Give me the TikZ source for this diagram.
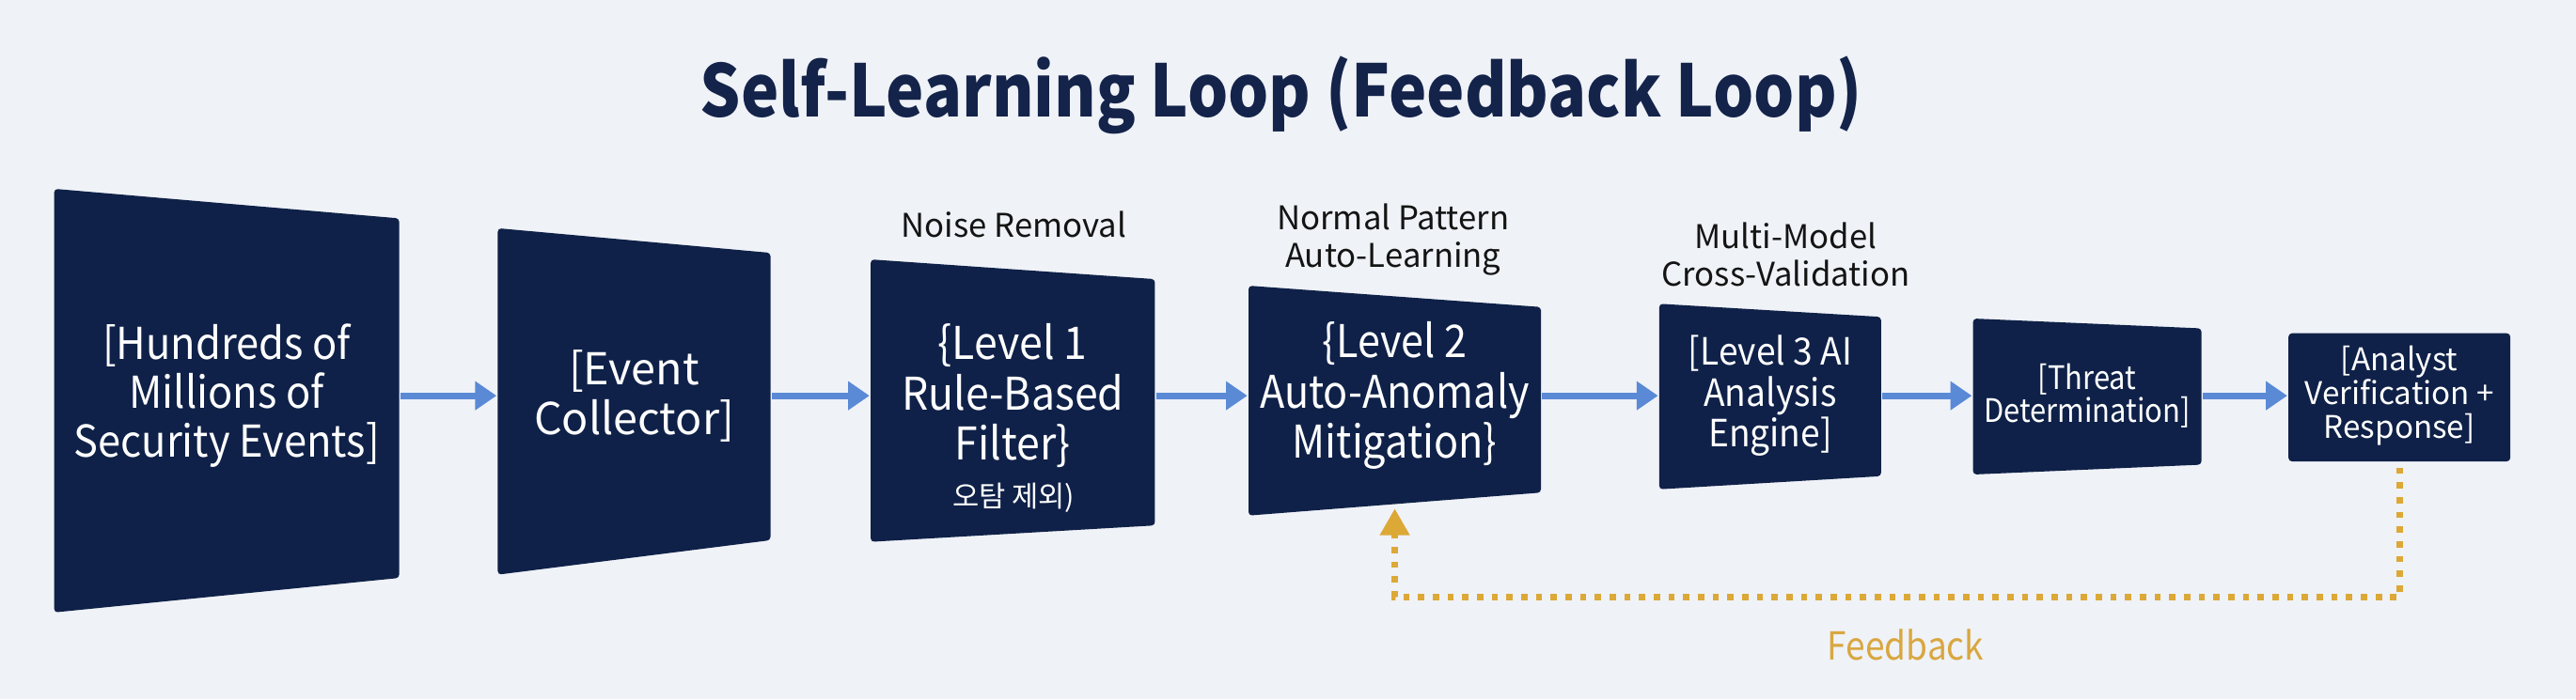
\documentclass[tikz,border=0pt]{standalone}
\usepackage{fontspec}
\setmainfont{Noto Sans CJK KR}
\newfontfamily\fnine[FakeStretch=0.9]{Noto Sans CJK KR}
\newfontfamily\fnt[FakeStretch=0.93]{Noto Sans CJK KR}
\newfontfamily\ftitle[FakeStretch=0.885]{Noto Sans CJK KR}
\usetikzlibrary{arrows.meta,calc}
\definecolor{bgc}{HTML}{EFF2F7}
\definecolor{navy}{HTML}{0F2148}
\definecolor{titlec}{HTML}{14234A}
\definecolor{flowc}{HTML}{5A8AD6}
\definecolor{goldc}{HTML}{DCA836}
\definecolor{fbtext}{HTML}{D9A740}
\definecolor{labelc}{HTML}{141414}
\begin{document}
\begin{tikzpicture}[x=0.01cm,y=-0.01cm,
  boxtext/.style={text=white, align=center, inner sep=0pt},
  panel/.style={fill=navy, rounded corners=0.6pt},
  toplabel/.style={text=labelc, align=center, inner sep=0pt, font=\fontsize{5.65}{6.6}\selectfont},
  flow/.style={draw=flowc, line width=1.14pt, -{Triangle[length=3.7pt,width=4.8pt]}},
  fb/.style={draw=goldc, line width=1.1pt, dash pattern=on 1.1pt off 1.45pt, -{Triangle[length=4.6pt,width=4.9pt]}}]
\useasboundingbox (0,0) rectangle (1568,425.8);
\fill[bgc] (0,0) rectangle (1568,425.8);

% title
\node[text=titlec, inner sep=0pt] (title) at (780,58) {\ftitle\bfseries\fontsize{12.5}{14}\selectfont Self-Learning Loop (Feedback Loop)};

% panels
\fill[panel] (33,115) -- (243,133) -- (243,352) -- (33,373) -- cycle;
\fill[panel] (303,139) -- (469,154) -- (469,329) -- (303,350) -- cycle;
\fill[panel] (530,158) -- (703,170) -- (703,320) -- (530,330) -- cycle;
\fill[panel] (760,174) -- (938,187) -- (938,300) -- (760,314) -- cycle;
\fill[panel] (1010,185) -- (1145,193) -- (1145,290) -- (1010,298) -- cycle;
\fill[panel] (1201,194) -- (1340,200) -- (1340,283) -- (1201,289) -- cycle;
\fill[panel] (1393,203) -- (1528,203) -- (1528,281) -- (1393,281) -- cycle;

% box texts
\node[boxtext, minimum width=2.10cm, minimum height=2.19cm, font=\fnt\fontsize{7.6}{8.4}\selectfont] (b1) at (138,241) {[Hundreds of\\Millions of\\Security Events]};
\node[boxtext, minimum width=1.66cm, minimum height=1.75cm, font=\fontsize{7.6}{8.6}\selectfont] (b2) at (386,241) {[Event\\Collector]};
\node[boxtext, minimum width=1.73cm, minimum height=1.50cm, font=\fnt\fontsize{7.8}{8.7}\selectfont] (b3) at (616.5,241) {\{Level 1\\Rule-Based\\Filter\}};
\node[boxtext, font=\fontsize{5}{6}\selectfont] (k3) at (617,303) {오탐 제외)};
\node[boxtext, minimum width=1.78cm, minimum height=1.36cm, font=\fnine\fontsize{7.8}{8.7}\selectfont] (b4) at (849,241) {\{Level 2\\Auto-Anomaly\\Mitigation\}};
\node[boxtext, minimum width=1.35cm, minimum height=0.97cm, font=\fnt\fontsize{6.5}{7.1}\selectfont] (b5) at (1077.5,241) {[Level 3 AI\\Analysis\\Engine]};
\node[boxtext, minimum width=1.39cm, minimum height=0.83cm, font=\fnine\fontsize{5.6}{5.6}\selectfont] (b6) at (1270.5,241) {[Threat\\Determination]};
\node[boxtext, minimum width=1.35cm, minimum height=0.86cm, font=\fontsize{5.4}{5.8}\selectfont] (b7) at (1460.5,241) {[Analyst\\Verification +\\Response]};

% labels above
\node[toplabel] (l3) at (617,137) {Noise Removal};
\node[toplabel] (l4) at (848,146) {Normal Pattern\\Auto-Learning};
\node[toplabel] (l5) at (1087,155) {Multi-Model\\Cross-Validation};

% flow arrows
\draw[flow] (b1) -- (b2);
\draw[flow] (b2) -- (b3);
\draw[flow] (b3) -- (b4);
\draw[flow] (b4) -- (b5);
\draw[flow] (b5) -- (b6);
\draw[flow] (b6) -- (b7);

% feedback
\draw[fb] (b7.south) -- ++(0,79) -| (b4.south);
\node[text=fbtext, inner sep=0pt, font=\fnine\fontsize{6.7}{8}\selectfont] (fbl) at (1160,393) {Feedback};
\end{tikzpicture}
\end{document}
